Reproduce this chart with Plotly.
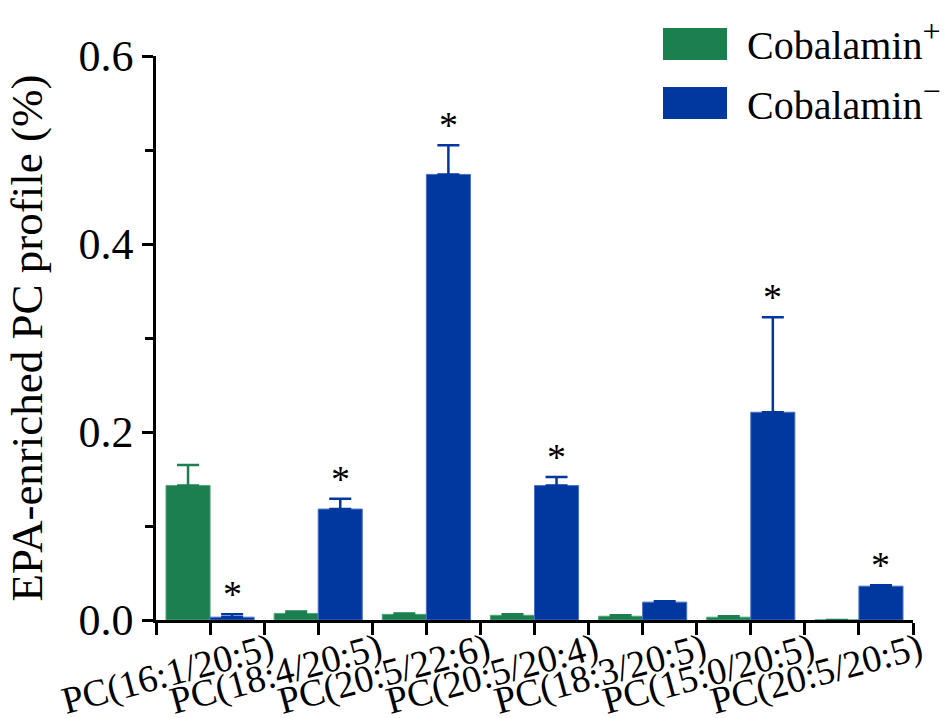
import plotly.graph_objects as go

categories = ["PC(16:1/20:5)", "PC(18:4/20:5)", "PC(20:5/22:6)", "PC(20:5/20:4)",
              "PC(18:3/20:5)", "PC(15:0/20:5)", "PC(20:5/20:5)"]
cob_plus = [0.143, 0.007, 0.006, 0.005, 0.004, 0.003, 0.0]
cob_plus_err = [0.022, 0.002, 0.001, 0.001, 0.001, 0.001, 0.0]
cob_minus = [0.003, 0.118, 0.474, 0.143, 0.019, 0.221, 0.036]
cob_minus_err = [0.003, 0.011, 0.031, 0.009, 0.001, 0.101, 0.001]
significant = [True, True, True, True, False, True, True]
y_ticks = [0.0, 0.2, 0.4, 0.6]

GREEN = "#1B7F50"
BLUE = "#0038A0"
FONT = "Liberation Serif"
bargap = 0.185

xpos = list(range(len(categories)))

fig = go.Figure()
fig.add_trace(go.Bar(
    x=xpos, y=cob_plus, name="Cobalamin+",
    marker=dict(color=GREEN, line=dict(color="#4FA37A", width=1)),
    error_y=dict(type="data", array=cob_plus_err, arrayminus=[0] * len(cob_plus),
                 symmetric=False, color=GREEN, thickness=2.5, width=11),
))
fig.add_trace(go.Bar(
    x=xpos, y=cob_minus, name="Cobalamin−",
    marker=dict(color=BLUE, line=dict(color="#4A6FC4", width=1)),
    error_y=dict(type="data", array=cob_minus_err, arrayminus=[0] * len(cob_minus),
                 symmetric=False, color=BLUE, thickness=2.5, width=11),
))

off = (1 - bargap) / 4
for i, sig in enumerate(significant):
    if sig:
        fig.add_annotation(x=i + off, y=cob_minus[i] + cob_minus_err[i], xref="x", yref="y",
                           text="*", showarrow=False, yanchor="bottom", yshift=-3,
                           font=dict(family=FONT, size=38, color="black"))

# custom legend
legend_items = [(GREEN, "Cobalamin<sup><span style='font-size:32px'>+</span></sup>"),
                (BLUE, "Cobalamin<sup><span style='font-size:32px'>−</span></sup>")]
for k, (col, txt) in enumerate(legend_items):
    y0 = 718 - 28 - k * 59
    fig.add_shape(type="rect", xref="paper", yref="paper",
                  x0=(663 - 156) / 757, x1=(727 - 156) / 757,
                  y0=(y0 - 32 - 98) / 564, y1=(y0 - 98) / 564,
                  fillcolor=col, line=dict(width=0))
    fig.add_annotation(xref="paper", yref="paper", x=(745 - 156) / 757,
                       y=(y0 - 13 - 98) / 564, text=txt, showarrow=False,
                       xanchor="left", yanchor="middle",
                       font=dict(family=FONT, size=40, color="black"))

fig.update_layout(
    width=948, height=718,
    margin=dict(l=156, r=35, t=56, b=98),
    paper_bgcolor="white", plot_bgcolor="white",
    barmode="group", bargap=bargap, bargroupgap=0,
    showlegend=False,
    font=dict(family=FONT, color="black"),
)
fig.update_xaxes(
    range=[-0.5, 6.5], tickvals=xpos, ticktext=categories, automargin=False,
    tickangle=-15, ticklabelshift=61, ticklabelstandoff=-22,
    tickfont=dict(family=FONT, size=38, color="black"),
    showline=True, linecolor="black", linewidth=2.5,
    ticks="outside", ticklen=12, tickwidth=2.5, tickcolor="black",
    minor=dict(tickvals=[i - 0.5 for i in range(len(categories) + 1)],
               ticks="outside", ticklen=12, tickwidth=2.5, tickcolor="black"),
    showgrid=False, zeroline=False,
)
fig.update_yaxes(
    range=[0, 0.6], tickvals=y_ticks, tickformat=".1f", automargin=False,
    tickfont=dict(family=FONT, size=44, color="black"),
    title=dict(text="EPA-enriched PC profile (%)", font=dict(family=FONT, size=45, color="black"),
               standoff=22),
    showline=True, linecolor="black", linewidth=2.5,
    ticks="outside", ticklen=11, tickwidth=2.5, tickcolor="black",
    minor=dict(dtick=0.1, ticks="outside", ticklen=8, tickwidth=2.5, tickcolor="black"),
    showgrid=False, zeroline=False,
)

fig.write_html("out.html")
